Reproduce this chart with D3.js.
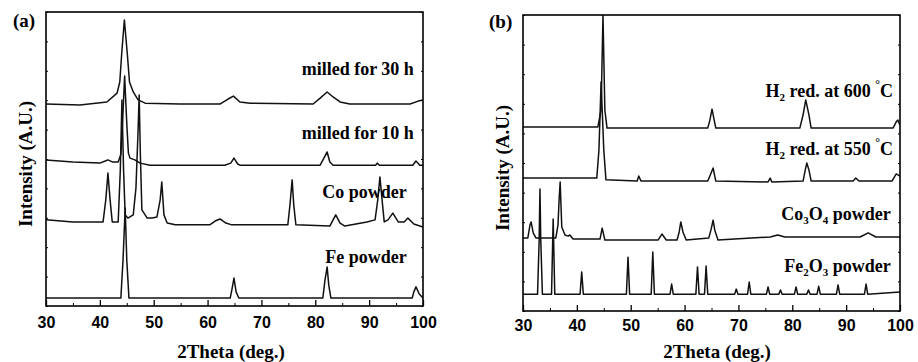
<!DOCTYPE html>
<html lang="en">
<head>
<meta charset="UTF-8" />
<title>XRD patterns</title>
<style>
  body { margin: 0; background: #fff; }
  svg text { font-family: "Liberation Serif", "Times New Roman", serif; font-weight: bold; fill: #000; }
  .xaxis text { font-family: "Liberation Sans", Arial, sans-serif; font-size: 16px; font-weight: bold; }
</style>
</head>
<body>
<script src="https://d3js.org/d3.v7.min.js"></script>
<script>
// tick labels shared by both panels
const xTicks = [30, 40, 50, 60, 70, 80, 90, 100]
const xMinorTicks = [35, 45, 55, 65, 75, 85, 95]

// panel (a): [2theta, intensity], offsets included
const milled30h = [
  [30, 68.7], [36.3, 68.4], [41.3, 69.4], [43.2, 72.4], [43.7, 76.2], [44.05, 85.7], [44.55, 97.3],
  [45.1, 85.7], [45.5, 76.2], [46.2, 72.8], [47.1, 70.1], [48.4, 69.0], [54.9, 68.7], [62.3, 68.7],
  [63.8, 70.4], [64.8, 71.4], [66.0, 69.4], [67.9, 69.0], [79.6, 68.7], [80.9, 70.7], [82.2, 72.8],
  [83.3, 71.1], [84.6, 69.4], [86.4, 68.7], [97.6, 68.7], [99.1, 69.7], [100, 70.1]
]
const milled10h = [
  [30, 49.7], [35, 49.0], [40, 48.6], [41.0, 49.3], [41.5, 49.7], [42.3, 49.0], [43.4, 49.0],
  [43.9, 51.5], [44.2, 62], [44.6, 78.2], [45.0, 62], [45.3, 52], [45.6, 50.3], [46.5, 49.7],
  [47.5, 48.6], [49.3, 47.9], [63.2, 47.9], [64.3, 48.6], [64.9, 50.3], [65.6, 48.3], [66.0, 47.9],
  [80.9, 47.9], [81.6, 50.3], [82.2, 52.4], [82.7, 49.0], [83.3, 47.9], [91.2, 47.9], [91.5, 48.6],
  [91.9, 47.9], [98.1, 47.9], [98.7, 49.3], [99.4, 47.9], [100, 47.9]
]
const coPowder = [
  [30, 29.3], [35, 28.6], [40.6, 28.6], [41.1, 36.1], [41.5, 45.2], [41.9, 36.1], [42.3, 28.6],
  [43.4, 28.6], [43.8, 46.3], [44.1, 70.1], [44.4, 46.3], [44.7, 31.0], [45.2, 29.9], [46.2, 31.0],
  [46.7, 40.1], [47.1, 59.9], [47.3, 71.8], [47.5, 53.1], [47.8, 32.7], [48.8, 29.9], [49.7, 29.9],
  [50.6, 30.3], [51.2, 36.1], [51.5, 42.2], [51.9, 31.0], [52.5, 28.2], [54.0, 27.6], [60.4, 27.6],
  [61.4, 28.9], [62.3, 29.6], [63.4, 28.2], [64.5, 27.6], [74.9, 27.6], [75.3, 34.4], [75.7, 42.9],
  [76.0, 34.4], [76.4, 27.6], [82.7, 27.2], [83.3, 29.3], [83.8, 31.0], [84.6, 28.2], [85.5, 27.2],
  [89.6, 28.6], [91.1, 29.3], [91.6, 36.1], [92.0, 43.9], [92.4, 36.1], [92.8, 28.6], [93.5, 29.3],
  [94.4, 31.6], [95.4, 28.6], [96.5, 28.6], [97.2, 29.9], [98.3, 27.9], [100, 26.9]
]
const fePowder = [
  [30, 2.7], [43.9, 2.7], [44.3, 15.6], [44.7, 33.3], [45.0, 15.6], [45.4, 2.7], [64.2, 2.7],
  [64.5, 5.4], [64.9, 9.5], [65.3, 4.8], [65.8, 2.7], [81.4, 2.7], [81.8, 8.8], [82.2, 13.3],
  [82.5, 7.1], [82.9, 2.7], [98.0, 2.7], [98.3, 4.8], [98.7, 6.5], [99.3, 4.1], [100, 2.7]
]

// panel (b)
const h2At600 = [
  [30, 62.2], [43.9, 62.2], [44.5, 67.9], [44.85, 100], [45.2, 67.9], [45.6, 61.8], [64.3, 61.8],
  [64.7, 64.5], [65.1, 68.2], [65.5, 64.5], [65.8, 61.8], [81.4, 61.8], [82.0, 66.2], [82.5, 71.3],
  [83.1, 66.2], [83.5, 61.8], [98.7, 61.8], [99.3, 63.9], [99.6, 64.5], [100, 62.8]
]
const h2At550 = [
  [30, 44.9], [43.7, 44.9], [44.1, 54.4], [44.5, 77.4], [45.0, 54.4], [45.4, 44.3], [51.2, 43.9],
  [51.5, 45.6], [51.9, 43.9], [64.3, 43.9], [64.7, 45.6], [65.3, 48.3], [65.8, 43.9], [75.5, 43.6],
  [75.9, 44.9], [76.2, 43.6], [82.0, 43.9], [82.4, 47.6], [82.7, 50.0], [83.1, 47.6], [83.5, 43.9],
  [91.3, 43.9], [91.8, 44.9], [92.4, 43.9], [98.5, 43.9], [99.3, 46.3], [100, 45.6]
]
const co3o4Powder = [
  [30, 24.7], [30.9, 24.7], [31.3, 29.1], [31.5, 30.1], [31.9, 26.4], [32.4, 24.7], [36.1, 24.7],
  [36.5, 29.1], [36.7, 37.5], [36.9, 43.6], [37.2, 28.4], [37.8, 25.7], [38.4, 25.3], [38.7, 25.7],
  [39.3, 24.3], [44.3, 24.3], [44.7, 28.0], [45.2, 24.0], [55.1, 24.0], [55.8, 26.0], [56.6, 24.0],
  [58.6, 24.0], [59.0, 26.7], [59.3, 30.1], [59.7, 26.7], [60.3, 24.0], [64.5, 24.7], [64.9, 27.4],
  [65.3, 30.7], [65.6, 27.4], [66.2, 24.0], [75.9, 25.0], [77.3, 25.7], [78.6, 25.0], [92.6, 25.0],
  [94.1, 26.4], [95.5, 25.0], [100, 25.0]
]
const fe2o3Powder = [
  [30, 5.7], [32.7, 5.7], [33.0, 24], [33.15, 41.2], [33.3, 24], [33.6, 5.7],
  [35.3, 5.7], [35.6, 31.1], [35.9, 5.7], [40.6, 5.7], [40.9, 13.2], [41.2, 5.7],
  [49.2, 5.7], [49.5, 18.2], [49.8, 5.7], [53.8, 5.7], [54.1, 19.9], [54.4, 5.7],
  [57.3, 5.7], [57.6, 9.1], [57.9, 5.7], [62.1, 5.7], [62.4, 14.9], [62.7, 5.7],
  [63.7, 5.7], [64.0, 15.2], [64.3, 5.7], [69.3, 5.7], [69.6, 7.4], [69.9, 5.7],
  [71.7, 5.7], [72.0, 9.8], [72.3, 5.7], [75.2, 5.7], [75.5, 8.1], [75.8, 5.7],
  [77.5, 5.7], [77.8, 7.1], [78.1, 5.7], [80.4, 5.7], [80.7, 8.1], [81.0, 5.7],
  [82.7, 5.7], [83.0, 7.1], [83.3, 5.7], [84.6, 5.7], [84.9, 8.4], [85.2, 5.7],
  [88.2, 5.7], [88.5, 8.8], [88.8, 5.7], [93.4, 5.7], [93.7, 9.1], [94.0, 5.7],
  [100, 6.4]
]

const width = 918
const height = 362

let svg = d3.select('body').append('svg')
svg.attr('width', width).attr('height', height)

// label: [parts], anchor (end) in data units
const panels = [
  {
    tag: '(a)', tagX: 13, tagY: 27,
    left: 46, right: 423, top: 12, bottom: 306,
    yLabelX: 25, yLabelY: 164, xLabelX: 231, tickPad: 11,
    traces: [
      { data: milled30h, label: [['milled for 30 h']], at: [98.3, 78.6] },
      { data: milled10h, label: [['milled for 10 h']], at: [98.3, 56.8] },
      { data: coPowder, label: [['Co powder']], at: [97.0, 36.7] },
      { data: fePowder, label: [['Fe powder']], at: [97.0, 14.6] }
    ]
  },
  {
    tag: '(b)', tagX: 489, tagY: 28,
    left: 523, right: 900, top: 15, bottom: 311,
    yLabelX: 502, yLabelY: 168, xLabelX: 717, tickPad: 9,
    traces: [
      { data: h2At600, label: [['H'], ['2', 'sub'], [' red. at 600 '], ['°', 'sup'], ['C']], at: [98.7, 72.3] },
      { data: h2At550, label: [['H'], ['2', 'sub'], [' red. at 550 '], ['°', 'sup'], ['C']], at: [98.7, 52.7] },
      { data: co3o4Powder, label: [['Co'], ['3', 'sub'], ['O'], ['4', 'sub'], [' powder']], at: [98.3, 30.7] },
      { data: fe2o3Powder, label: [['Fe'], ['2', 'sub'], ['O'], ['3', 'sub'], [' powder']], at: [98.3, 13.2] }
    ]
  }
]

panels.forEach((p, i) => {
  const x = d3.scaleLinear().domain([30, 100]).range([p.left, p.right])
  const y = d3.scaleLinear().domain([0, 100]).range([p.bottom, p.top])

  const g = svg.append('g')

  svg.append('clipPath').attr('id', 'clip' + i)
    .append('rect')
    .attr('x', p.left).attr('y', p.top)
    .attr('width', p.right - p.left).attr('height', p.bottom - p.top)

  const line = d3.line().x(d => x(d[0])).y(d => y(d[1]))

  g.append('g').attr('clip-path', `url(#clip${i})`)
    .selectAll('path')
    .data(p.traces)
    .enter()
    .append('path')
    .attr('d', d => line(d.data))
    .attr('fill', 'none')
    .attr('stroke', '#111')
    .attr('stroke-width', 1.5)
    .attr('stroke-linejoin', 'round')

  // inward ticks, major with labels and minor without
  g.append('g')
    .attr('class', 'xaxis')
    .attr('transform', `translate(0,${p.bottom})`)
    .call(d3.axisBottom(x).tickValues(xTicks).tickSizeInner(-6).tickSizeOuter(0).tickPadding(p.tickPad))
    .call(a => a.select('.domain').remove())
    .call(a => a.selectAll('.tick line').attr('stroke-width', 1.3))
    .call(a => a.selectAll('.tick text').attr('y', p.tickPad))

  g.append('g')
    .attr('transform', `translate(0,${p.bottom})`)
    .call(d3.axisBottom(x).tickValues(xMinorTicks).tickSizeInner(-3).tickSizeOuter(0).tickFormat(''))
    .call(a => a.select('.domain').remove())

  g.append('g')
    .attr('transform', `translate(${p.left},0)`)
    .call(d3.axisLeft(y).ticks(10).tickSizeInner(-2).tickSizeOuter(0).tickFormat(''))
    .call(a => a.select('.domain').remove())

  g.append('g')
    .attr('transform', `translate(${p.right},0)`)
    .call(d3.axisRight(y).ticks(10).tickSizeInner(-2).tickSizeOuter(0).tickFormat(''))
    .call(a => a.select('.domain').remove())

  g.append('rect')
    .attr('x', p.left).attr('y', p.top)
    .attr('width', p.right - p.left).attr('height', p.bottom - p.top)
    .attr('fill', 'none')
    .attr('stroke', '#000')
    .attr('stroke-width', 1.6)

  // trace labels, right aligned
  const labels = g.selectAll('.trace-label')
    .data(p.traces)
    .enter()
    .append('text')
    .attr('class', 'trace-label')
    .attr('x', d => x(d.at[0]))
    .attr('y', d => y(d.at[1]))
    .attr('text-anchor', 'end')
    .style('font-size', '18px')

  labels.each(function (d) {
    const t = d3.select(this)
    d.label.forEach(part => {
      const s = t.append('tspan').text(part[0])
      if (part[1] === 'sub') s.attr('dy', 4).style('font-size', '11px')
      else if (part[1] === 'sup') s.attr('dy', -9).style('font-size', '12px')
      else if (part !== d.label[0]) {
        const prev = d.label[d.label.indexOf(part) - 1]
        if (prev[1] === 'sub') s.attr('dy', -4)
        if (prev[1] === 'sup') s.attr('dy', 9)
      }
    })
  })

  g.append('text')
    .attr('x', p.tagX).attr('y', p.tagY)
    .style('font-size', '19px')
    .text(p.tag)

  g.append('text')
    .attr('transform', `translate(${p.yLabelX},${p.yLabelY}) rotate(-90)`)
    .attr('text-anchor', 'middle')
    .attr('dy', '0.35em')
    .style('font-size', '19px')
    .text('Intensity (A.U.)')

  g.append('text')
    .attr('x', p.xLabelX).attr('y', 358)
    .attr('text-anchor', 'middle')
    .style('font-size', '19px')
    .text('2Theta (deg.)')
})
</script>
</body>
</html>
